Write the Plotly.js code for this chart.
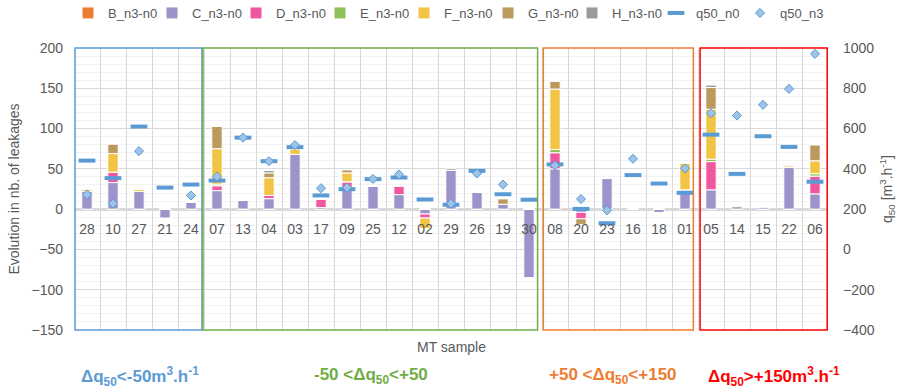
<!DOCTYPE html>
<html>
<head>
<meta charset="utf-8">
<script src="https://cdn.plot.ly/plotly-3.0.1.min.js"></script>
<style>html,body{margin:0;padding:0;background:#fff;}#chart{width:905px;height:391px;}</style>
</head>
<body>
<div id="chart"></div>
<script>
// Categories (MT samples)
const samples = ['28','10','27','21','24','07','13','04','03','17','09','25','12','02','29','26','19','30','08','20','23','16','18','01','05','14','15','22','06'];

// Evolution in nb. of leakages (n3 - n0) per class
const B_vals = [0,0,0,0,0, 0,0,0,0,0,0,0,0,0,0,0,0,0, 0,0,0,0,0,0, 0,0,0,0,0];
const C_vals = [22,33,22,-11,9, 23,11,13,68,2,26,29,18,-6,48,21,6,-85, 50,-4,38,0,-4,24, 24,0,3,52,19];
const D_vals = [0,13,0,0,0, 6,0,4,0,10,8,0,11,-5,0,0,0,0, 20,-8,0,0,0,0, 35,0,0,0,22];
const E_vals = [0,0,0,0,0, 2,0,0,0,0,0,0,0,0,0,0,0,0, 4,0,0,0,0,0, 3,0,0,0,3];
const F_vals = [3,23,3,0,0, 44,0,22,7,0,11,0,0,-13,0,0,0,0, 75,0,0,0,0,33, 62,0,0,2,16];
const G_vals = [0,12,0,0,0, 28,0,6,0,0,4,0,0,0,0,0,7,0, 10,-7,0,0,0,0, 27,0,0,0,20];
const H_vals = [0,0,0,0,0, 0,0,3,0,0,0,0,0,0,2,0,0,0, 0,0,0,0,0,0, 3,3,0,1,0];

// q50 values [m3/h]
const q50_n0 = [441,354,610,307,322, 342,555,438,508,268,299,349,357,248,222,390,274,247, 422,201,130,369,327,281, 570,375,562,509,336];
const q50_n3 = [273,228,488,null,268, 362,555,438,518,304,307,350,372,null,227,377,322,null, 417,250,194,450,null,402, 676,665,718,797,971];

// Group labels
const groupLabels = [
  'Δq<sub>50</sub>&lt;-50m<sup>3</sup>.h<sup>-1</sup>',
  '-50 &lt;Δq<sub>50</sub>&lt;+50',
  '+50 &lt;Δq<sub>50</sub>&lt;+150',
  'Δq<sub>50</sub>&gt;+150m<sup>3</sup>.h<sup>-1</sup>'
];
const groupColors = ['#5B9BD5','#70AD47','#ED7D31','#FF0000'];

const barSeries = [
  {name:'B_n3-n0', y:B_vals, color:'#ED7D31'},
  {name:'C_n3-n0', y:C_vals, color:'#9D93CB'},
  {name:'D_n3-n0', y:D_vals, color:'#F0579F'},
  {name:'E_n3-n0', y:E_vals, color:'#8FC15A'},
  {name:'F_n3-n0', y:F_vals, color:'#F2C444'},
  {name:'G_n3-n0', y:G_vals, color:'#BC9A5F'},
  {name:'H_n3-n0', y:H_vals, color:'#9A9A9A'}
];

const traces = barSeries.map(s => ({
  type:'bar', name:s.name, x:samples, y:s.y,
  marker:{color:s.color, line:{color:'#ffffff', width:1}},
  hoverinfo:'x+y+name'
}));

traces.push({
  type:'scatter', mode:'markers', name:'q50_n0', x:samples, y:q50_n0, yaxis:'y2',
  marker:{symbol:'line-ew', size:12, color:'#5B9BD5', line:{color:'#5B9BD5', width:4}}
});
traces.push({
  type:'scatter', mode:'markers', name:'q50_n3', x:samples, y:q50_n3, yaxis:'y2',
  marker:{symbol:'diamond', size:7, color:'#9DC3E6', line:{color:'#5B9BD5', width:1}}
});

const L = 74, R = 77, T = 48, B = 61, W = 905, H = 391;
const pw = W - L - R, ph = H - T - B;
const px2x = p => (p - L) / pw;
const py2y = p => (H - B - p) / ph;

const boxes = [[-0.46, 4.42], [4.46, 17.33], [17.55, 23.32], [23.58, 28.47]];
const shapes = boxes.map((b, i) => ({
  type:'rect', xref:'x', yref:'paper', x0:b[0], x1:b[1], y0:0, y1:1,
  line:{color:groupColors[i], width:1.5}, fillcolor:'rgba(0,0,0,0)', layer:'above'
}));

const labelX = [140, 371, 613, 774];
const annotations = groupLabels.map((t, i) => ({
  text:'<b>' + t + '</b>', xref:'paper', yref:'paper', x:px2x(labelX[i]), y:py2y(376),
  xanchor:'center', yanchor:'middle', showarrow:false,
  font:{family:'"Liberation Sans Narrow", "Liberation Sans", Arial, sans-serif', size:17, color:groupColors[i]}
}));
annotations.push({
  text:'MT sample', xref:'paper', yref:'paper', x:0.5, y:py2y(347),
  xanchor:'center', yanchor:'middle', showarrow:false,
  font:{size:14, color:'#595959'}
});

const layout = {
  width:W, height:H,
  margin:{l:L, r:R, t:T, b:B, pad:0, autoexpand:false},
  paper_bgcolor:'#ffffff', plot_bgcolor:'#ffffff',
  font:{family:'"Liberation Sans", Arial, sans-serif', color:'#595959', size:13},
  barmode:'relative', bargap:0.6,
  showlegend:true,
  legend:{orientation:'h', x:px2x(68), xanchor:'left', y:py2y(13), yanchor:'middle',
          font:{size:13, color:'#595959'}, entrywidth:39, entrywidthmode:'pixels',
          bgcolor:'rgba(0,0,0,0)', traceorder:'normal'},
  xaxis:{type:'category', categoryorder:'array', categoryarray:samples, range:[-0.5, 28.5],
         tickson:'boundaries', showgrid:true, gridcolor:'#d9d9d9', gridwidth:1,
         anchor:'free', position:150/350, ticks:'', showline:false, zeroline:false,
         tickfont:{size:14, color:'#595959'}, ticklabelstandoff:10, fixedrange:true},
  yaxis:{range:[-150, 200], dtick:50, showgrid:true, gridcolor:'#d9d9d9', gridwidth:1,
         minor:{dtick:10, showgrid:true, gridcolor:'#f2f2f2', gridwidth:1},
         zeroline:true, zerolinecolor:'#d9d9d9', zerolinewidth:3,
         ticks:'', showline:false, tickfont:{size:14, color:'#595959'}, ticklabelstandoff:10,
         title:{text:'Evolution in nb. of leakages', font:{size:14, color:'#595959'}, standoff:8}},
  yaxis2:{range:[-400, 1000], dtick:200, overlaying:'y', side:'right', showgrid:false,
          zeroline:false, ticks:'', showline:false, tickfont:{size:14, color:'#595959'},
          ticklabelstandoff:14,
          title:{text:'q<sub>50</sub> [m<sup>3</sup>.h<sup>-1</sup>]', font:{size:14, color:'#595959'}, standoff:8}},
  shapes:shapes,
  annotations:annotations
};

Plotly.newPlot('chart', traces, layout, {displayModeBar:false, staticPlot:true});
</script>
</body>
</html>
